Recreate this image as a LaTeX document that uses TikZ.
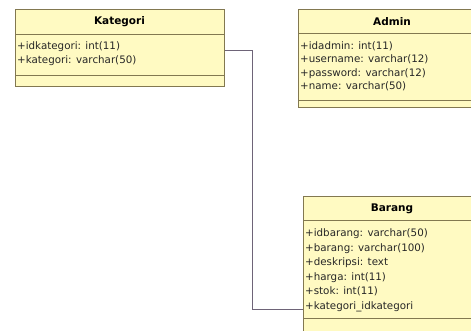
\documentclass[tikz,border=0pt]{standalone}
\usepackage{fontspec}
\setmainfont{DejaVu Sans}
\usetikzlibrary{positioning}
\definecolor{classfill}{RGB}{255,250,194}
\definecolor{classline}{RGB}{130,120,80}
\definecolor{linkline}{RGB}{110,100,120}
\tikzset{
  classbox/.style={draw=classline, fill=classfill, line width=0.9pt, anchor=north west, inner sep=0pt},
  divider/.style={draw=classline, line width=0.9pt},
  classname/.style={font=\fontsize{10.5}{11}\selectfont\bfseries, inner sep=0pt},
  attr/.style={font=\fontsize{10.3}{11}\selectfont, anchor=west, inner sep=0pt,
    text height=7.5pt, text depth=2.5pt, text=black!85},
  link/.style={draw=linkline, line width=0.8pt},
}

\begin{document}
\begin{tikzpicture}[x=1pt,y=-1pt]
\clip (0,0) rectangle (471,330);
\fill[white] (0,0) rectangle (471,330);

% Kategori
\node[classbox, minimum width=209pt, minimum height=77pt] (kategori) at (15,9) {};
\draw[divider] ([yshift=-25pt]kategori.north west) -- ([yshift=-25pt]kategori.north east);
\draw[divider] ([yshift=-66pt]kategori.north west) -- ([yshift=-66pt]kategori.north east);
\node[classname] (tkategori) at (119.5,22) {Kategori};
\node[attr] (kid) at (17,47) {+idkategori: int(11)};
\node[attr, below=3.5pt of kid.south west, anchor=north west] (knama) {+kategori: varchar(50)};

% Admin
\node[classbox, minimum width=188pt, minimum height=98pt] (admin) at (298,9) {};
\draw[divider] ([yshift=-24pt]admin.north west) -- ([yshift=-24pt]admin.north east);
\draw[divider] ([yshift=-91pt]admin.north west) -- ([yshift=-91pt]admin.north east);
\node[classname] (tadmin) at (392,22) {Admin};
\node[attr] (aid) at (300,47) {+idadmin: int(11)};
\node[attr, below=3pt of aid.south west, anchor=north west] (auser) {+username: varchar(12)};
\node[attr, below=3pt of auser.south west, anchor=north west] (apass) {+password: varchar(12)};
\node[attr, below=3pt of apass.south west, anchor=north west] (aname) {+name: varchar(50)};

% Barang
\node[classbox, minimum width=178pt, minimum height=140pt] (barang) at (303,196) {};
\draw[divider] ([yshift=-24pt]barang.north west) -- ([yshift=-24pt]barang.north east);
\draw[divider] ([yshift=-122pt]barang.north west) -- ([yshift=-122pt]barang.north east);
\node[classname] (tbarang) at (392,209) {Barang};
\node[attr] (bid) at (305,234) {+idbarang: varchar(50)};
\node[attr, below=4.2pt of bid.south west, anchor=north west] (bnama) {+barang: varchar(100)};
\node[attr, below=4.2pt of bnama.south west, anchor=north west] (bdesk) {+deskripsi: text};
\node[attr, below=4.2pt of bdesk.south west, anchor=north west] (bharga) {+harga: int(11)};
\node[attr, below=4.2pt of bharga.south west, anchor=north west] (bstok) {+stok: int(11)};
\node[attr, below=4.2pt of bstok.south west, anchor=north west] (bkat) {+kategori\_idkategori};

% relasi
\coordinate (bend) at (252,0);
\coordinate (kstart) at ([yshift=-41pt]kategori.north east);
\draw[link] (kstart) -- (kstart -| bend) |- ([yshift=-2pt]bkat.west -| barang.west);
\end{tikzpicture}
\end{document}
